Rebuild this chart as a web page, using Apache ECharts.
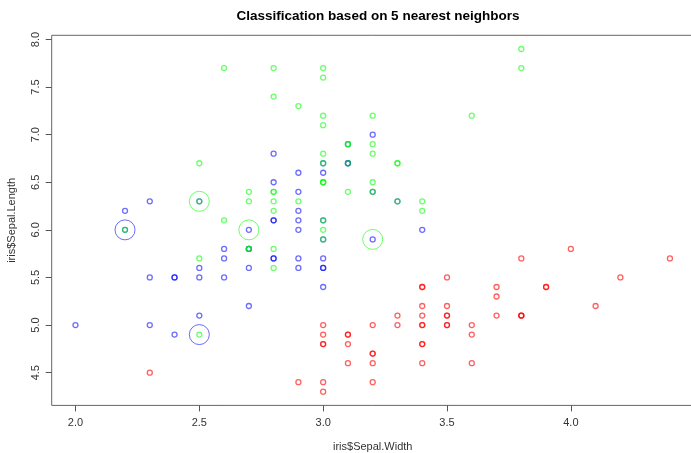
<!DOCTYPE html>
<html>
<head>
<meta charset="utf-8">
<script src="https://cdn.jsdelivr.net/npm/echarts@6/dist/echarts.min.js"></script>
<style>
html,body{margin:0;padding:0;background:#fff;}
#chart{width:691px;height:453px;}
</style>
</head>
<body>
<div id="chart"></div>
<script>
// Iris data: Sepal.Width (x) and Sepal.Length (y), by species
const setosaWidth  = [3.5,3.0,3.2,3.1,3.6,3.9,3.4,3.4,2.9,3.1,3.7,3.4,3.0,3.0,4.0,4.4,3.9,3.5,3.8,3.8,3.4,3.7,3.6,3.3,3.4,3.0,3.4,3.5,3.4,3.2,3.1,3.4,4.1,4.2,3.1,3.2,3.5,3.6,3.0,3.4,3.5,2.3,3.2,3.5,3.8,3.0,3.8,3.2,3.7,3.3];
const setosaLength = [5.1,4.9,4.7,4.6,5.0,5.4,4.6,5.0,4.4,4.9,5.4,4.8,4.8,4.3,5.8,5.7,5.4,5.1,5.7,5.1,5.4,5.1,4.6,5.1,4.8,5.0,5.0,5.2,5.2,4.7,4.8,5.4,5.2,5.5,4.9,5.0,5.5,4.9,4.4,5.1,5.0,4.5,4.4,5.0,5.1,4.8,5.1,4.6,5.3,5.0];
const versicolorWidth  = [3.2,3.2,3.1,2.3,2.8,2.8,3.3,2.4,2.9,2.7,2.0,3.0,2.2,2.9,2.9,3.1,3.0,2.7,2.2,2.5,3.2,2.8,2.5,2.8,2.9,3.0,2.8,3.0,2.9,2.6,2.4,2.4,2.7,2.7,3.0,3.4,3.1,2.3,3.0,2.5,2.6,3.0,2.6,2.3,2.7,3.0,2.9,2.9,2.5,2.8];
const versicolorLength = [7.0,6.4,6.9,5.5,6.5,5.7,6.3,4.9,6.6,5.2,5.0,5.9,6.0,6.1,5.6,6.7,5.6,5.8,6.2,5.6,5.9,6.1,6.3,6.1,6.4,6.6,6.8,6.7,6.0,5.7,5.5,5.5,5.8,6.0,5.4,6.0,6.7,6.3,5.6,5.5,5.5,6.1,5.8,5.0,5.6,5.7,5.7,6.2,5.1,5.7];
const virginicaWidth  = [3.3,2.7,3.0,2.9,3.0,3.0,2.5,2.9,2.5,3.6,3.2,2.7,3.0,2.5,2.8,3.2,3.0,3.8,2.6,2.2,3.2,2.8,2.8,2.7,3.3,3.2,2.8,3.0,2.8,3.0,2.8,3.8,2.8,2.8,2.6,3.0,3.4,3.1,3.0,3.1,3.1,3.1,2.7,3.2,3.3,3.0,2.5,3.0,3.4,3.0];
const virginicaLength = [6.3,5.8,7.1,6.3,6.5,7.6,4.9,7.3,6.7,7.2,6.5,6.4,6.8,5.7,5.8,6.4,6.5,7.7,7.7,6.0,6.9,5.6,7.7,6.3,6.7,7.2,6.2,6.1,6.4,7.2,7.4,7.9,6.4,6.3,6.1,7.7,6.3,6.4,6.0,6.9,6.7,6.9,5.8,6.8,6.7,6.7,6.3,6.5,6.2,5.9];
// Misclassified points (highlighted with big circles, coloured by predicted class)
const missWidth  = [2.2,2.5,2.7,3.2,2.5];
const missLength = [6.0,6.3,6.0,5.9,4.9];
const missPred   = ['versicolor','virginica','virginica','virginica','versicolor'];
const xTicks = [2.0,2.5,3.0,3.5,4.0];
const yTicks = [4.5,5.0,5.5,6.0,6.5,7.0,7.5,8.0];

const colors = {setosa:'rgba(255,0,0,0.78)', versicolor:'rgba(0,0,255,0.72)', virginica:'rgba(0,255,0,0.72)'};
const zip = (a,b) => a.map((v,i)=>[v,b[i]]);
const font = 'Liberation Sans, Arial, sans-serif';

function pts(name, w, l) {
  return {
    type:'scatter', name, data: zip(w,l), symbol:'circle', symbolSize:5,
    itemStyle:{color:'rgba(0,0,0,0)', borderColor:colors[name], borderWidth:1.3},
    silent:true
  };
}

const chart = echarts.init(document.getElementById('chart'), null, {renderer:'canvas'});
chart.setOption({
  animation:false,
  backgroundColor:'#fff',
  title:{text:'Classification based on 5 nearest neighbors', left:373, top:4, textAlign:'center',
    textStyle:{fontFamily:font, fontSize:13.5, fontWeight:'bold', color:'#000'}},
  grid:{left:51.7, top:35.3, width:642, height:370.1, containLabel:false, outerBoundsMode:'none',
    show:true, borderColor:'#666', borderWidth:1, backgroundColor:'transparent'},
  xAxis:{type:'value', min:1.904, max:4.496, name:'iris$Sepal.Width', nameLocation:'middle', nameGap:36,
    nameTextStyle:{fontFamily:font, fontSize:11, color:'#333'},
    splitLine:{show:false}, axisLine:{show:false},
    axisTick:{show:true, inside:false, length:6, customValues:xTicks, lineStyle:{color:'#555'}},
    axisLabel:{customValues:xTicks, formatter:v=>v.toFixed(1), margin:12, fontFamily:font, fontSize:11, color:'#333'}},
  yAxis:{type:'value', min:4.156, max:8.044, name:'iris$Sepal.Length', nameLocation:'middle', nameGap:34,
    nameTextStyle:{fontFamily:font, fontSize:11, color:'#333'},
    splitLine:{show:false}, axisLine:{show:false},
    axisTick:{show:true, inside:false, length:6, customValues:yTicks, lineStyle:{color:'#555'}},
    axisLabel:{customValues:yTicks, formatter:v=>v.toFixed(1), rotate:90, margin:10, fontFamily:font, fontSize:11, color:'#333'}},
  series:[
    pts('setosa', setosaWidth, setosaLength),
    pts('versicolor', versicolorWidth, versicolorLength),
    pts('virginica', virginicaWidth, virginicaLength),
    {type:'scatter', name:'misclassified', silent:true, symbol:'circle', symbolSize:20,
      data: missWidth.map((w,i)=>({value:[w,missLength[i]], itemStyle:{color:'rgba(0,0,0,0)', borderColor:colors[missPred[i]], borderWidth:1}}))}
  ]
});
</script>
</body>
</html>
